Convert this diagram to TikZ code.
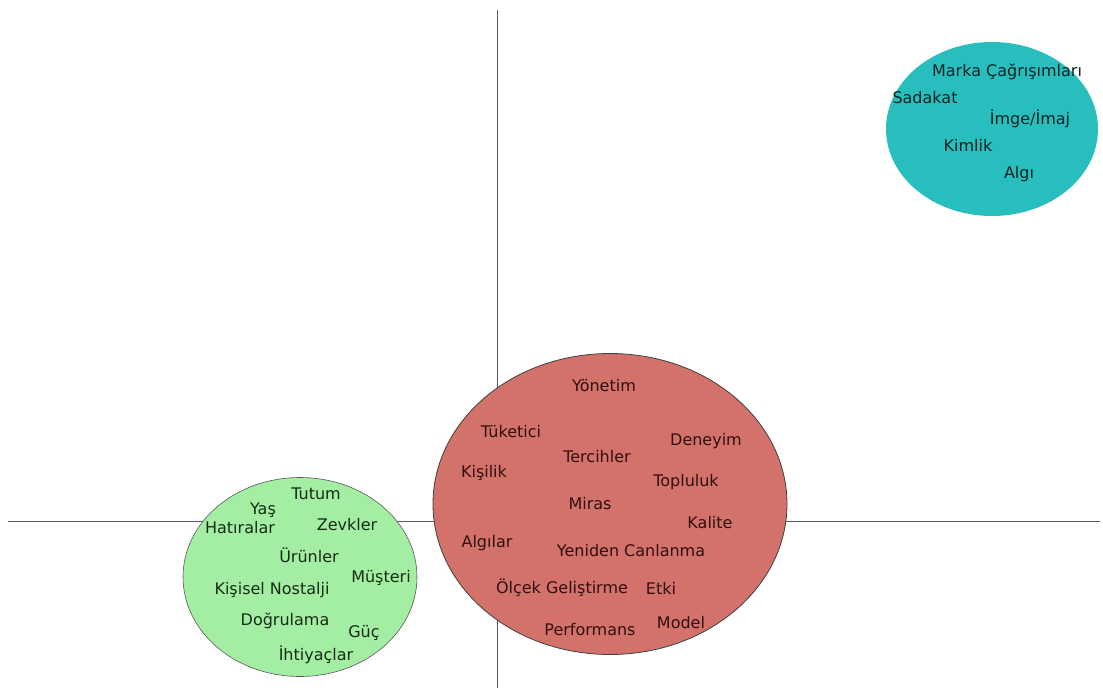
\documentclass[tikz,border=0pt]{standalone}
\usepackage{fontspec}
\setmainfont{DejaVu Sans}
\usetikzlibrary{shapes.geometric}
\definecolor{tealc}{RGB}{40,190,190}
\definecolor{redc}{RGB}{210,114,106}
\definecolor{greenc}{RGB}{164,238,164}
\definecolor{axisc}{RGB}{90,90,90}
\definecolor{txtr}{RGB}{50,15,15}
\definecolor{txtg}{RGB}{20,45,20}
\definecolor{txtt}{RGB}{10,35,35}
\begin{document}
\begin{tikzpicture}[x=1pt,y=-1pt,
  word/.style={inner sep=0pt,font=\fontsize{16}{18}\selectfont},
  tword/.style={word,text=txtt},
  rword/.style={word,text=txtr},
  gword/.style={word,text=txtg},
  axisline/.style={draw=axisc,line width=0.9pt},
  blob/.style={ellipse,inner sep=0pt}]
\useasboundingbox (0,0) rectangle (1103,688);
% axes
\coordinate (vt) at (497,10);
\coordinate (vb) at (497,688);
\coordinate (hl) at (8,521);
\coordinate (hr) at (1100,521);
\draw[axisline] (vt) -- (vb);
\draw[axisline] (hl) -- (hr);
% ellipses
\node[blob,fill=tealc,minimum width=212,minimum height=174] (teal) at (992,129) {};
\node[blob,fill=redc,draw=black!75,line width=0.8pt,minimum width=354,minimum height=301] (red) at (610,504) {};
\node[blob,fill=greenc,draw=black!65,line width=0.6pt,minimum width=234,minimum height=199] (green) at (300,577) {};
% teal words
\node[tword] (w1) at (1007,72) {Marka Çağrışımları};
\node[tword] (w2) at (925,98) {Sadakat};
\node[tword] (w3) at (1030,119) {İmge/İmaj};
\node[tword] (w4) at (968,145) {Kimlik};
\node[tword] (w5) at (1019,174) {Algı};
% red words
\node[rword] (r1) at (604,386) {Yönetim};
\node[rword] (r2) at (511,432) {Tüketici};
\node[rword] (r3) at (706,441) {Deneyim};
\node[rword] (r4) at (597,457) {Tercihler};
\node[rword] (r5) at (484,473) {Kişilik};
\node[rword] (r6) at (686,482) {Topluluk};
\node[rword] (r7) at (590,504) {Miras};
\node[rword] (r8) at (710,523) {Kalite};
\node[rword] (r9) at (487,543) {Algılar};
\node[rword] (r10) at (631,551) {Yeniden Canlanma};
\node[rword] (r11) at (562,588) {Ölçek Geliştirme};
\node[rword] (r12) at (661,588) {Etki};
\node[rword] (r13) at (590,630) {Performans};
\node[rword] (r14) at (681,623) {Model};
% green words
\node[gword] (g1) at (316,494) {Tutum};
\node[gword] (g2) at (263,510) {Yaş};
\node[gword] (g3) at (240,528) {Hatıralar};
\node[gword] (g4) at (347,525) {Zevkler};
\node[gword] (g5) at (309,555) {Ürünler};
\node[gword] (g6) at (381,578) {Müşteri};
\node[gword] (g7) at (272,590) {Kişisel Nostalji};
\node[gword] (g8) at (285,621) {Doğrulama};
\node[gword] (g9) at (364,633) {Güç};
\node[gword] (g10) at (316,655) {İhtiyaçlar};
\end{tikzpicture}
\end{document}
